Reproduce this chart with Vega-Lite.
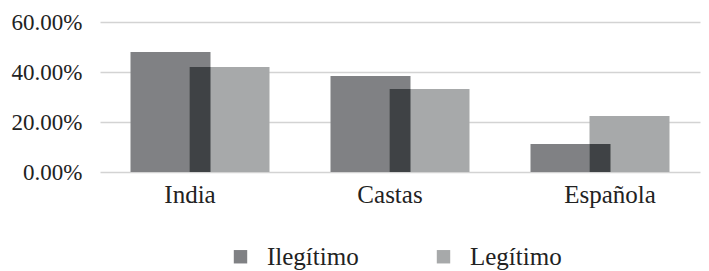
{
  "$schema": "https://vega.github.io/schema/vega-lite/v6.json",
  "autosize": "none",
  "padding": {"left": 100, "top": 22, "right": 0, "bottom": 99},
  "width": 609,
  "height": 150,
  "background": "white",
  "data": {"values": [
    {"Categoria": "India", "Tipo": "Ilegítimo", "valor": 0.48},
    {"Categoria": "India", "Tipo": "Legítimo", "valor": 0.42},
    {"Categoria": "Castas", "Tipo": "Ilegítimo", "valor": 0.384},
    {"Categoria": "Castas", "Tipo": "Legítimo", "valor": 0.332},
    {"Categoria": "Española", "Tipo": "Ilegítimo", "valor": 0.112},
    {"Categoria": "Española", "Tipo": "Legítimo", "valor": 0.224}
  ]},
  "config": {
    "view": {"stroke": null},
    "font": "Liberation Serif",
    "axis": {"labelFont": "Liberation Serif", "labelColor": "#222222", "labelFontSize": 23},
    "legend": {"labelFont": "Liberation Serif", "labelColor": "#222222", "labelFontSize": 25}
  },
  "layer": [
    {
      "mark": {"type": "bar", "width": 80},
      "encoding": {
        "x": {"field": "Categoria", "type": "nominal", "sort": ["India", "Castas", "Española"],
              "scale": {"range": [0, 600], "paddingInner": 0.41, "paddingOuter": 0.205},
              "axis": {"title": null, "labelAngle": 0, "ticks": false, "domain": false, "labelPadding": 10, "labelFontSize": 25,
                       "labelOffset": {"condition": {"test": "datum.value === 'Española'", "value": 10}, "value": -10}}},
        "xOffset": {"field": "Tipo", "type": "nominal", "sort": ["Ilegítimo", "Legítimo"], "scale": {"paddingInner": 0, "paddingOuter": 0}},
        "y": {"field": "valor", "type": "quantitative",
              "scale": {"domain": [0, 0.6]},
              "axis": {"title": null, "values": [0, 0.2, 0.4, 0.6], "format": ".2%", "domain": false, "ticks": false,
                       "labelPadding": 18, "gridColor": "#d3d3d3", "gridWidth": 1.5}},
        "color": {"field": "Tipo", "type": "nominal",
                  "scale": {"domain": ["Ilegítimo", "Legítimo"], "range": ["#808184", "#a7a9aa"]},
                  "legend": {"title": null, "orient": "none", "direction": "horizontal", "legendX": 128, "legendY": 222,
                             "symbolType": "square", "symbolSize": 180, "symbolStrokeWidth": 0, "columnPadding": 72, "labelOffset": 14}}
      }
    },
    {
      "transform": [{"aggregate": [{"op": "min", "field": "valor", "as": "solapado"}], "groupby": ["Categoria"]}],
      "mark": {"type": "bar", "width": 21, "color": "#3f4245"},
      "encoding": {
        "x": {"field": "Categoria", "type": "nominal", "sort": ["India", "Castas", "Española"]},
        "y": {"field": "solapado", "type": "quantitative"}
      }
    }
  ]
}
